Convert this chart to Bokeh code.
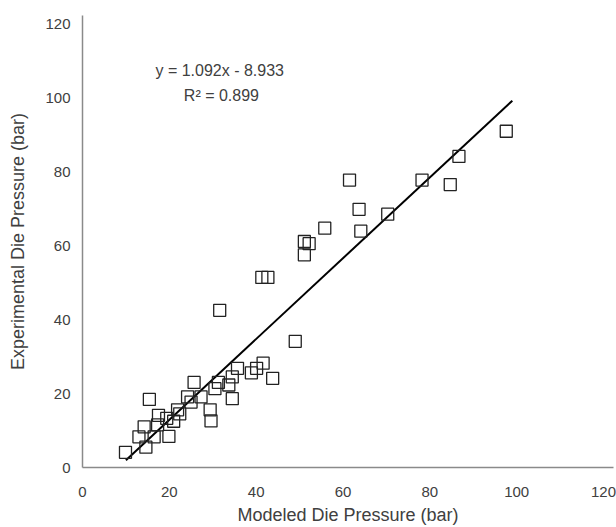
from bokeh.plotting import figure
from bokeh.models import Label, Range1d, FixedTicker
from bokeh.embed import file_html
from bokeh.resources import INLINE

# Data
modeled = [9.9, 13.0, 14.2, 15.4, 14.6, 16.5, 17.5, 17.3, 19.4, 19.9, 21.0, 21.9, 22.4,
           24.2, 25.0, 25.7, 27.3, 29.4, 29.6, 30.5, 31.3, 31.6, 33.7, 34.5, 34.5, 35.7,
           38.9, 40.1, 41.6, 43.8, 41.3, 42.7, 49.0, 51.1, 52.2, 51.1, 55.8, 61.5, 63.7,
           64.1, 70.3, 78.2, 84.7, 86.7, 97.6]
experimental = [4.1, 8.3, 11.0, 18.4, 5.5, 8.3, 14.1, 11.5, 13.3, 8.4, 12.5, 15.6, 14.5,
                19.1, 17.7, 23.0, 19.1, 15.6, 12.6, 21.3, 23.0, 42.5, 22.3, 24.5, 18.6, 26.8,
                25.6, 26.8, 28.2, 24.1, 51.4, 51.4, 34.1, 61.1, 60.5, 57.5, 64.7, 77.7, 69.8,
                63.9, 68.5, 77.7, 76.5, 84.1, 90.9]

fit_slope = 1.092
fit_intercept = -8.933
fit_x = [10.0, 99.0]
fit_y = [fit_slope * v + fit_intercept for v in fit_x]

x_ticks = [0, 20, 40, 60, 80, 100, 120]
y_ticks = [0, 20, 40, 60, 80, 100, 120]

x_title = "Modeled Die Pressure (bar)"
y_title = "Experimental Die Pressure (bar)"
equation_text = "y = 1.092x - 8.933"
r2_text = "R\u00b2 = 0.899"

FONT = "Liberation Sans"
TEXT_COLOR = "#404040"
AXIS_COLOR = "#8a8a8a"

p = figure(width=616, height=527, output_backend="svg", toolbar_location=None,
           x_range=Range1d(0, 122.3), y_range=Range1d(0, 122.2),
           min_border_left=82, min_border_right=3, min_border_top=15, min_border_bottom=60,
           background_fill_color="white", border_fill_color="white")
p.outline_line_color = None
p.grid.visible = False

for ax, ticks in ((p.xaxis[0], x_ticks), (p.yaxis[0], y_ticks)):
    ax.ticker = FixedTicker(ticks=ticks)
    ax.major_tick_line_color = None
    ax.minor_tick_line_color = None
    ax.major_tick_out = 0
    ax.major_tick_in = 0
    ax.axis_line_color = AXIS_COLOR
    ax.axis_line_width = 1.5
    ax.major_label_text_font = FONT
    ax.major_label_text_font_size = "15px"
    ax.major_label_text_color = TEXT_COLOR
    ax.axis_label_text_font = FONT
    ax.axis_label_text_font_size = "18px"
    ax.axis_label_text_font_style = "normal"
    ax.axis_label_text_color = TEXT_COLOR

p.xaxis.axis_label = x_title
p.yaxis.axis_label = y_title
p.xaxis.major_label_standoff = 19
p.xaxis.axis_label_standoff = 5
p.yaxis.major_label_standoff = 12
p.yaxis.axis_label_standoff = 14

p.line(fit_x, fit_y, line_color="black", line_width=2)
p.scatter(modeled, experimental, marker="square", size=12, fill_color=None,
          line_color="#222222", line_width=1.3)

p.add_layout(Label(x=31.6, y=107.3, text=equation_text, text_font=FONT,
                   text_font_size="16px", text_color=TEXT_COLOR,
                   text_align="center", text_baseline="middle"))
p.add_layout(Label(x=32.0, y=100.5, text=r2_text, text_font=FONT,
                   text_font_size="16px", text_color=TEXT_COLOR,
                   text_align="center", text_baseline="middle"))

open("out.html", "w").write(file_html(p, INLINE))
